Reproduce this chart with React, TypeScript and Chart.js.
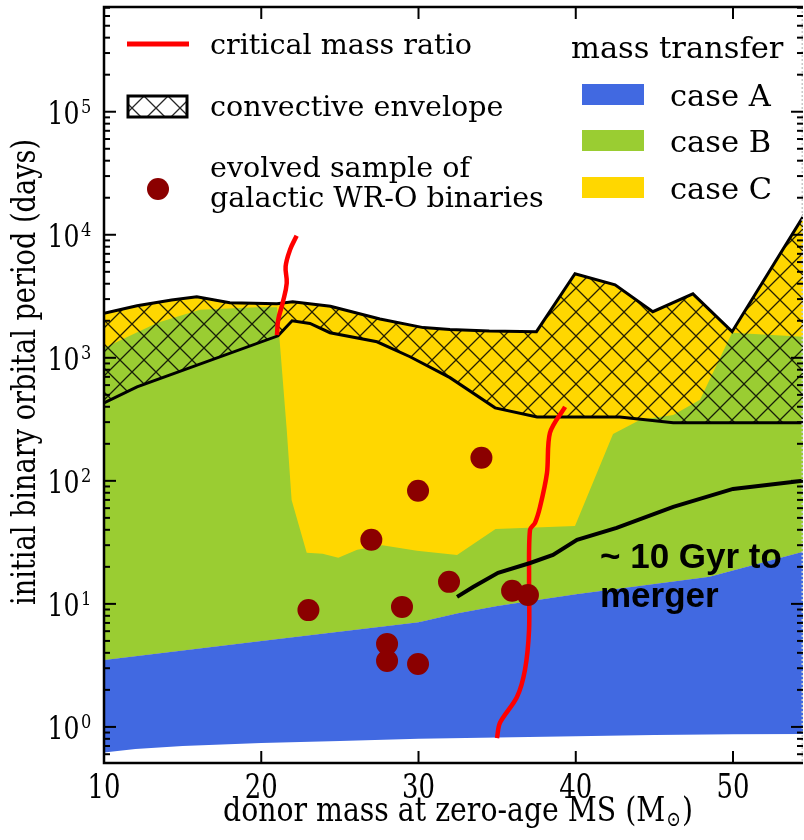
import React, { useEffect, useRef } from "react";
import { Chart, registerables } from "chart.js";

Chart.register(...registerables);

type P = [number, number];

// Axis ranges
const MASS_MIN = 10;
const MASS_MAX = 54.45;
const PERIOD_MIN = 0.509;
const PERIOD_MAX = 7.1e5;

// Tick labels
const MASS_TICKS = [10, 20, 30, 40, 50];
const PERIOD_TICKS = [1, 10, 100, 1000, 10000, 100000];
const PERIOD_TICK_EXPONENTS = ["0", "1", "2", "3", "4", "5"];

// Region boundaries: [donor mass (Msun), initial period (days)]
const CASE_A_LOWER: P[] = [
  [10, 0.62], [12, 0.66], [15, 0.7], [20, 0.74], [25, 0.77], [30, 0.8],
  [35, 0.82], [40, 0.84], [45, 0.86], [50, 0.87], [56, 0.88],
];
const CASE_A_UPPER: P[] = [
  [10, 3.5], [20, 5.0], [30, 7.1], [32.5, 8.4], [35, 9.6], [40, 12.0],
  [48.5, 16.6], [56, 30],
];
const CASE_B_UPPER: P[] = [
  [10, 1200], [13.4, 1930], [16.1, 2460], [19.7, 2580], [21.0, 2580],
  [21.62, 260], [21.93, 70], [22.89, 26], [23.9, 25.5], [24.9, 23.7],
  [26.1, 27.5], [27.7, 30], [29.9, 27], [32.45, 25], [34.9, 40.7],
  [39.95, 43], [42.37, 240], [44.1, 314], [46.2, 343], [47.9, 457],
  [49.94, 1600], [54.45, 1480], [56, 1450],
];
const ENVELOPE_TOP: P[] = [
  [10, 2300], [12.1, 2650], [14.3, 2950], [15.9, 3130], [18.0, 2800],
  [21.0, 2750], [22.0, 2850], [24.4, 2620], [27.55, 2070], [30.3, 1760],
  [32.0, 1700], [34.5, 1650], [37.5, 1630], [39.95, 4820], [42.5, 3920],
  [44.9, 2370], [47.45, 3310], [49.94, 1630], [54.45, 14000], [56, 28500],
];
const ENVELOPE_BOTTOM: P[] = [
  [10, 430], [12.1, 580], [21.07, 1510], [21.96, 2000], [23.1, 1900],
  [24.37, 1600], [27.36, 1350], [29.46, 1020], [32.0, 690], [34.87, 392],
  [37.54, 331], [42.8, 331], [46.2, 297], [56, 297],
];
const CRITICAL_LOW: P[] = [
  [22.25, 9820], [21.83, 7550], [21.55, 5520], [21.62, 4050],
  [21.36, 2790], [21.08, 2040], [21.0, 1530],
];
const CRITICAL_HIGH: P[] = [
  [39.32, 400], [38.36, 246], [38.17, 116], [37.73, 61.5], [37.41, 45.6],
  [37.09, 40], [37.03, 15.7], [37.03, 6.15], [36.77, 2.91], [36.26, 1.75],
  [35.18, 1.08], [34.99, 0.81],
];
const MERGER_10GYR: P[] = [
  [32.45, 11.4], [33.47, 13.7], [35.06, 17.9], [37.1, 21.5], [38.55, 25],
  [40.08, 33.1], [42.6, 41.5], [46.2, 61.5], [50.0, 86], [54.45, 100], [56, 102],
];
const WR_O_MASS = [34.0, 29.97, 27.0, 31.94, 23.0, 28.95, 35.95, 36.96, 28.0, 28.0, 29.97];
const WR_O_PERIOD = [154, 83, 33.2, 15.1, 8.9, 9.45, 12.8, 11.8, 4.73, 3.44, 3.25];

// Colours
const BLUE = "#4169E1";
const GREEN = "#9ACD32";
const GOLD = "#FFD700";
const RED = "#FF0000";
const DARKRED = "#8B0000";

const SERIF = '"DejaVu Serif", serif';

const toXY = (pts: P[]) => pts.map(([x, y]) => ({ x, y }));
const polygon = (lower: P[], upper: P[]) => [
  ...toXY(lower),
  ...toXY([...upper].reverse()),
];

function makeHatch(ctx: CanvasRenderingContext2D): CanvasPattern | string {
  const T = 24;
  const c = document.createElement("canvas");
  c.width = T;
  c.height = T;
  const g = c.getContext("2d");
  if (!g) return "rgba(0,0,0,0.2)";
  g.strokeStyle = "rgba(0,0,0,0.85)";
  g.lineWidth = 1.3;
  g.beginPath();
  for (const k of [-T, 0, T]) {
    g.moveTo(k - 2, -2);
    g.lineTo(k + T + 2, T + 2);
  }
  for (const k of [0, T, 2 * T]) {
    g.moveTo(k + 2, -2);
    g.lineTo(k - T - 2, T + 2);
  }
  g.stroke();
  return ctx.createPattern(c, "repeat") || "rgba(0,0,0,0.2)";
}

function drawText(
  ctx: CanvasRenderingContext2D,
  s: string,
  x: number,
  y: number,
  font: string,
  align: CanvasTextAlign = "left",
  sx = 1,
  color = "#000"
) {
  ctx.save();
  ctx.font = font;
  ctx.fillStyle = color;
  ctx.textAlign = align;
  ctx.textBaseline = "alphabetic";
  ctx.translate(x, y);
  ctx.scale(sx, 1);
  ctx.fillText(s, 0, 0);
  ctx.restore();
}

function makeDecor(hatch: CanvasPattern | string) {
  return {
    id: "decor",
    afterDraw(chart: any) {
      const ctx: CanvasRenderingContext2D = chart.ctx;
      const a = chart.chartArea;
      const xs = chart.scales.x;
      const ys = chart.scales.y;
      ctx.save();

      // frame
      ctx.strokeStyle = "#000";
      ctx.lineWidth = 2.5;
      ctx.beginPath();
      ctx.moveTo(a.right, a.top);
      ctx.lineTo(a.left, a.top);
      ctx.lineTo(a.left, a.bottom);
      ctx.lineTo(a.right, a.bottom);
      ctx.stroke();
      ctx.strokeStyle = "#c8c8c8";
      ctx.lineWidth = 1.5;
      ctx.setLineDash([2, 2]);
      ctx.beginPath();
      ctx.moveTo(a.right - 0.75, a.top);
      ctx.lineTo(a.right - 0.75, a.bottom);
      ctx.stroke();
      ctx.setLineDash([]);

      // ticks (inward)
      ctx.strokeStyle = "#000";
      ctx.lineWidth = 2;
      const seg = (x1: number, y1: number, x2: number, y2: number) => {
        ctx.beginPath();
        ctx.moveTo(x1, y1);
        ctx.lineTo(x2, y2);
        ctx.stroke();
      };
      for (const v of MASS_TICKS) {
        const px = xs.getPixelForValue(v);
        seg(px, a.bottom, px, a.bottom - 12);
        seg(px, a.top, px, a.top + 12);
      }
      for (const v of PERIOD_TICKS) {
        const py = ys.getPixelForValue(v);
        seg(a.left, py, a.left + 12, py);
        seg(a.right, py, a.right - 12, py);
      }
      for (let e = -1; e <= 5; e++) {
        for (let m = 2; m <= 9; m++) {
          const v = m * Math.pow(10, e);
          if (v <= PERIOD_MIN || v >= PERIOD_MAX) continue;
          const py = ys.getPixelForValue(v);
          seg(a.left, py, a.left + 6, py);
          seg(a.right, py, a.right - 6, py);
        }
      }

      // y tick labels
      ctx.font = `32px ${SERIF}`;
      const sxY = 32 / ctx.measureText("10").width;
      PERIOD_TICKS.forEach((v, i) => {
        const py = ys.getPixelForValue(v);
        drawText(ctx, "10", a.left - 24.5, py + 12, `32px ${SERIF}`, "right", sxY);
        drawText(ctx, PERIOD_TICK_EXPONENTS[i], a.left - 23, py + 1.5, `18px ${SERIF}`, "left", 0.9);
      });

      // x tick labels
      ctx.font = `34px ${SERIF}`;
      const sxX = 33 / ctx.measureText("30").width;
      for (const v of MASS_TICKS) {
        const px = xs.getPixelForValue(v);
        drawText(ctx, String(v), px, a.bottom + 35, `34px ${SERIF}`, "center", sxX);
      }

      // x axis title with subscript sun symbol
      const f1 = `34px ${SERIF}`;
      const f2 = `21px ${SERIF}`;
      const t1 = "donor mass at zero-age MS (M";
      const t2 = "\u2299";
      const t3 = ")";
      ctx.font = f1;
      const w1 = ctx.measureText(t1).width;
      const w3 = ctx.measureText(t3).width;
      ctx.font = f2;
      const w2 = ctx.measureText(t2).width;
      const total = 468;
      const sxT = total / (w1 + w2 + w3);
      const x0 = 223;
      const by = a.bottom + 58;
      drawText(ctx, t1, x0, by, f1, "left", sxT);
      drawText(ctx, t2, x0 + w1 * sxT + 1, by + 5, f2, "left", sxT);
      drawText(ctx, t3, x0 + (w1 + w2) * sxT + 2, by, f1, "left", sxT);

      // y axis title (rotated)
      const yt = "initial binary orbital period (days)";
      const fy = `33px ${SERIF}`;
      ctx.font = fy;
      const wy = ctx.measureText(yt).width;
      ctx.save();
      ctx.translate(35, 372);
      ctx.rotate(-Math.PI / 2);
      ctx.scale(466 / wy, 1);
      ctx.font = fy;
      ctx.fillStyle = "#000";
      ctx.textAlign = "center";
      ctx.textBaseline = "alphabetic";
      ctx.fillText(yt, 0, 0);
      ctx.restore();

      // legend (left)
      const fl = `28.6px ${SERIF}`;
      ctx.strokeStyle = RED;
      ctx.lineWidth = 5;
      seg(127, 44, 189, 44);
      drawText(ctx, "critical mass ratio", 210, 54, fl);
      ctx.fillStyle = "#fff";
      ctx.fillRect(128, 96, 59, 21);
      ctx.fillStyle = hatch as any;
      ctx.fillRect(128, 96, 59, 21);
      ctx.strokeStyle = "#000";
      ctx.lineWidth = 3;
      ctx.strokeRect(128, 96, 59, 21);
      drawText(ctx, "convective envelope", 210, 116, fl);
      ctx.fillStyle = DARKRED;
      ctx.beginPath();
      ctx.arc(158, 189, 11, 0, Math.PI * 2);
      ctx.fill();
      drawText(ctx, "evolved sample of", 210, 177, fl);
      drawText(ctx, "galactic WR-O binaries", 210, 207, fl);

      // legend (right)
      const fr = `30.5px ${SERIF}`;
      drawText(ctx, "mass transfer", 571, 58, fr);
      const boxes: [string, string, number, number][] = [
        [BLUE, "case A", 84, 106],
        [GREEN, "case B", 130, 152],
        [GOLD, "case C", 177, 198.5],
      ];
      for (const [col, lab, top, base] of boxes) {
        ctx.fillStyle = col;
        ctx.fillRect(582, top, 62, 21);
        drawText(ctx, lab, 670, base, fr);
      }

      // annotation
      const fb = 'bold 35px "Liberation Sans", Arial, sans-serif';
      drawText(ctx, "~ 10 Gyr to", 600, 568, fb);
      drawText(ctx, "merger", 600, 607, fb);

      ctx.restore();
    },
  };
}

const area = (label: string, data: any[], color: any, order: number) => ({
  label,
  data,
  fill: "shape",
  backgroundColor: color,
  borderWidth: 0,
  pointRadius: 0,
  order,
});

const curve = (label: string, pts: P[], color: string, width: number, tension: number, order: number) => ({
  label,
  data: toXY(pts),
  fill: false,
  borderColor: color,
  borderWidth: width,
  pointRadius: 0,
  tension,
  order,
});

export default function App() {
  const ref = useRef<HTMLCanvasElement | null>(null);

  useEffect(() => {
    const canvas = ref.current;
    if (!canvas) return;
    const ctx = canvas.getContext("2d");
    if (!ctx) return;
    const hatch = makeHatch(ctx);

    const chart = new Chart(canvas, {
      type: "line",
      data: {
        datasets: [
          area("case C", polygon(CASE_A_UPPER, ENVELOPE_TOP), GOLD, 10),
          area("case B", polygon(CASE_A_UPPER, CASE_B_UPPER), GREEN, 9),
          area("case A", polygon(CASE_A_LOWER, CASE_A_UPPER), BLUE, 8),
          {
            label: "convective envelope",
            data: polygon(ENVELOPE_BOTTOM, ENVELOPE_TOP),
            fill: "shape",
            backgroundColor: hatch,
            borderColor: "#000",
            borderWidth: 3,
            borderJoinStyle: "miter",
            pointRadius: 0,
            order: 7,
          },
          curve("critical mass ratio (low)", CRITICAL_LOW, RED, 4.5, 0.4, 5),
          curve("critical mass ratio (high)", CRITICAL_HIGH, RED, 4.5, 0.3, 5),
          curve("~10 Gyr to merger", MERGER_10GYR, "#000", 4, 0, 4),
          {
            label: "evolved sample of galactic WR-O binaries",
            data: WR_O_MASS.map((m, i) => ({ x: m, y: WR_O_PERIOD[i] })),
            showLine: false,
            pointRadius: 11,
            pointBackgroundColor: DARKRED,
            pointBorderWidth: 0,
            order: 1,
          },
        ] as any,
      },
      options: {
        responsive: false,
        animation: false,
        events: [],
        layout: { autoPadding: false, padding: { left: 104, top: 7, right: 1, bottom: 77 } },
        plugins: {
          legend: { display: false },
          tooltip: { enabled: false },
          title: { display: false },
        },
        scales: {
          x: { type: "linear", min: MASS_MIN, max: MASS_MAX, display: false },
          y: { type: "logarithmic", min: PERIOD_MIN, max: PERIOD_MAX, display: false },
        },
      } as any,
      plugins: [makeDecor(hatch) as any],
    });
    return () => chart.destroy();
  }, []);

  return (
    <div style={{ position: "fixed", left: 0, top: 0, width: 804, height: 840, background: "#fff" }}>
      <canvas ref={ref} width={804} height={840} style={{ display: "block" }} />
    </div>
  );
}
